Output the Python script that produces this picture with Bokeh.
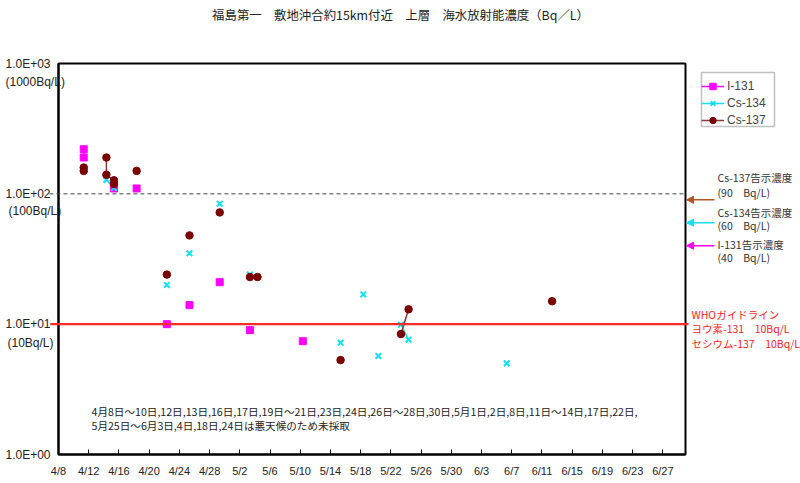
import math
import pandas as pd
from bokeh.plotting import figure
from bokeh.models import FixedTicker, Label, Arrow, NormalHead, Legend, LegendItem, BoxAnnotation
from bokeh.embed import file_html
from bokeh.resources import INLINE

# ---------------------------------------------------------------------------
# data (sampling date + time, Bq/L)
start_date = "2011-04-08"
end_date = "2011-06-30"

tick_labels = ["4/8", "4/12", "4/16", "4/20", "4/24", "4/28", "5/2", "5/6", "5/10", "5/14",
               "5/18", "5/22", "5/26", "5/30", "6/3", "6/7", "6/11", "6/15", "6/19", "6/23", "6/27"]

y_ticks = [1, 10, 100, 1000]
y_tick_labels = ["1.0E+00", "1.0E+01", "1.0E+02", "1.0E+03"]
y_unit_labels = ["", "(10Bq/L)", "(100Bq/L)", "(1000Bq/L)"]

i131_dates = ["2011-04-11 08:10", "2011-04-11 08:10", "2011-04-15 08:10", "2011-04-18 08:10",
              "2011-04-22 08:10", "2011-04-25 08:10", "2011-04-29 08:10", "2011-05-03 08:10",
              "2011-05-10 08:10"]
i131_values = [220, 190, 110, 110, 10, 14, 21, 9.0, 7.4]

cs134_dates = ["2011-04-11 08:10", "2011-04-11 08:10", "2011-04-14 08:10", "2011-04-15 08:10",
               "2011-04-22 08:10", "2011-04-25 08:10", "2011-04-29 08:10", "2011-05-03 08:10",
               "2011-05-15 08:10", "2011-05-18 08:10", "2011-05-20 08:10", "2011-05-23 08:10",
               "2011-05-24 08:10", "2011-06-06 08:10"]
cs134_values = [155, 150, 128, 111, 20, 35, 84, 24, 7.2, 16.9, 5.7, 9.9, 7.6, 5.0]

cs137_dates = ["2011-04-11 08:10", "2011-04-11 08:10", "2011-04-14 08:10", "2011-04-14 08:10",
               "2011-04-15 08:10", "2011-04-15 08:10", "2011-04-18 08:10", "2011-04-22 08:10",
               "2011-04-25 08:10", "2011-04-29 08:10", "2011-05-03 08:10", "2011-05-04 08:10",
               "2011-05-15 08:10", "2011-05-23 08:10", "2011-05-24 08:10", "2011-06-12 08:10"]
cs137_values = [159, 150, 190, 140, 127, 119, 150, 24, 48, 72, 23, 23, 5.3, 8.4, 13, 15]

limit_names = ["Cs-137告示濃度", "Cs-134告示濃度", "I-131告示濃度"]
limit_notes = ["(90　Bq/L)", "(60　Bq/L)", "(40　Bq/L)"]
limit_values = [90, 60, 40]

who_value = 10
who_lines = ["WHOガイドライン", "ヨウ素-131　10Bq/L", "セシウム-137　10Bq/L"]

title_text = "福島第一　敷地沖合約15km付近　上層　海水放射能濃度（Bq／L）"
note_lines = ["4月8日～10日,12日,13日,16日,17日,19日～21日,23日,24日,26日～28日,30日,5月1日,2日,8日,11日～14日,17日,22日,",
              "5月25日～6月3日,4日,18日,24日は悪天候のため未採取"]

# ---------------------------------------------------------------------------
t0 = pd.Timestamp(start_date)


def to_days(dates):
    return [(pd.Timestamp(d) - t0) / pd.Timedelta(days=1) for d in dates]


def tick_days(labels):
    out = []
    for lab in labels:
        m, d = lab.split("/")
        out.append(int((pd.Timestamp(year=t0.year, month=int(m), day=int(d)) - t0).days))
    return out


def broken(xs, ys):
    # consecutive rows (same or next day) are joined, gaps break the line
    lx, ly = [], []
    for i in range(len(xs)):
        if i > 0 and xs[i] - xs[i - 1] > 1.5:
            lx.append(math.nan)
            ly.append(math.nan)
        lx.append(xs[i])
        ly.append(ys[i])
    return lx, ly


# the frame fills the whole canvas; the plotted box is placed inside it
W, H = 800, 483
BOX_L, BOX_R, BOX_T, BOX_B = 58, 685, 63, 454

x_end = (pd.Timestamp(end_date) - t0).days
dpp = x_end / (BOX_R - BOX_L)
lpp = 3 / (BOX_B - BOX_T)
x0 = -BOX_L * dpp
x1 = x_end + (W - BOX_R) * dpp
y0 = 10 ** (-(H - BOX_B) * lpp)
y1 = 10 ** (3 + BOX_T * lpp)


def scr(rx, ry):
    return rx, H - ry


ticks = tick_days(tick_labels)

p = figure(width=W, height=H, y_axis_type="log", title=None,
           x_range=(x0, x1), y_range=(y0, y1),
           output_backend="svg", toolbar_location=None,
           min_border=0, min_border_left=0, min_border_right=0,
           min_border_top=0, min_border_bottom=0)
p.background_fill_color = "white"
p.border_fill_color = "white"
p.xgrid.visible = False
p.ygrid.visible = False
p.outline_line_color = None

p.xaxis.fixed_location = 1
p.xaxis.bounds = (0, x_end)
p.xaxis.ticker = FixedTicker(ticks=ticks)
p.xaxis.major_label_overrides = {t: lab for t, lab in zip(ticks, tick_labels)}
p.xaxis.major_tick_in = 5
p.xaxis.major_tick_out = 0
p.xaxis.minor_tick_line_color = None
p.xaxis.axis_line_width = 2
p.xaxis.major_tick_line_width = 1
p.xaxis.major_label_standoff = 10
p.xaxis.major_label_text_font = "Liberation Sans"
p.xaxis.major_label_text_font_size = "11px"
p.xaxis.major_label_text_color = "#222"

p.yaxis.fixed_location = 0
p.yaxis.bounds = (1, 1000)
p.yaxis.ticker = FixedTicker(ticks=y_ticks)
p.yaxis.major_label_overrides = {t: lab for t, lab in zip(y_ticks, y_tick_labels)}
p.yaxis.major_tick_in = 0
p.yaxis.major_tick_out = 0
p.yaxis.minor_tick_line_color = None
p.yaxis.axis_line_width = 2
p.yaxis.major_label_standoff = 8
p.yaxis.major_label_text_font = "Liberation Sans"
p.yaxis.major_label_text_font_size = "12px"
p.yaxis.major_label_text_color = "#222"

# plot box
p.add_layout(BoxAnnotation(left=0, right=x_end, bottom=1, top=1000, fill_alpha=0,
                           line_color="black", line_width=2, line_alpha=1))

# reference lines
p.add_layout(Arrow(end=None, x_start=-1.2, y_start=100, x_end=x_end, y_end=100,
                   line_color="#444", line_width=1, line_dash="4 3"))
p.add_layout(Arrow(end=None, x_start=-1.1, y_start=who_value, x_end=x_end + 0.4, y_end=who_value,
                   line_color="#ff2a2a", line_width=2.2))

# series
series = [
    ("I-131", i131_dates, i131_values, "#ff00ff", "#ff00ff", "square", 7),
    ("Cs-134", cs134_dates, cs134_values, "#12e0f0", "#12e0f0", "x", 8),
    ("Cs-137", cs137_dates, cs137_values, "#7a0000", "#8b3a3a", "circle", 7.5),
]
items = []
for name, dates, vals, color, lcolor, marker, size in series:
    xs = to_days(dates)
    lx, ly = broken(xs, vals)
    ln = p.line(lx, ly, line_color=lcolor, line_width=1.5)
    sc = p.scatter(xs, vals, marker=marker, size=size, fill_color=color,
                   line_color=color, line_width=2 if marker == "x" else 1)
    items.append(LegendItem(label=name, renderers=[ln, sc]))

# legend: entries placed by bokeh, frame drawn to the reference size
p.add_layout(BoxAnnotation(left=701, right=774, top=H - 72, bottom=H - 126,
                           left_units="screen", right_units="screen",
                           top_units="screen", bottom_units="screen",
                           fill_color="white", fill_alpha=1,
                           line_color="#333", line_width=1.5, level="overlay"))
legend = Legend(items=items, location=scr(701, 128), margin=0, padding=3, spacing=1,
                glyph_width=23, glyph_height=16, label_height=16, label_standoff=3,
                label_text_font="Liberation Sans", label_text_font_size="12px",
                border_line_color=None, background_fill_alpha=0)
p.add_layout(legend)

# limit arrows and notes on the right
arrow_colors = ["#b0562c", "#12e0f0", "#ff00ff"]
name_y = [177, 211.5, 243.5]
note_y = [191.5, 224.5, 256.5]
for nm, nt, v, c, ny, ty in zip(limit_names, limit_notes, limit_values, arrow_colors, name_y, note_y):
    p.add_layout(Arrow(end=NormalHead(size=7, fill_color=c, line_color=c),
                       x_start=x_end + 29 * dpp, y_start=v, x_end=x_end + 1 * dpp, y_end=v,
                       line_color=c, line_width=1.5))
    for txt, ry in ((nm, ny), (nt, ty)):
        sx, sy = scr(717, ry)
        p.add_layout(Label(x=sx, y=sy, x_units="screen", y_units="screen", text=txt,
                           text_font="Noto Sans CJK JP", text_font_size="10.5px",
                           text_color="#333", text_baseline="middle"))

for i, line in enumerate(who_lines):
    sx, sy = scr(691, 313.5 + 14.7 * i)
    p.add_layout(Label(x=sx, y=sy, x_units="screen", y_units="screen", text=line,
                       text_font="Noto Sans CJK JP", text_font_size="10.5px",
                       text_color="#ff1a1a", text_baseline="middle"))

# y unit lines under the tick labels
unit_pos = {1000: (5, 81), 100: (8, 210), 10: (7, 342)}
for t, lab in zip(y_ticks, y_unit_labels):
    if not lab:
        continue
    sx, sy = scr(*unit_pos[t])
    p.add_layout(Label(x=sx, y=sy, x_units="screen", y_units="screen", text=lab,
                       text_font="Liberation Sans", text_font_size="12px",
                       text_color="#222", text_baseline="middle"))

# title and note
sx, sy = scr(400, 14)
p.add_layout(Label(x=sx, y=sy, x_units="screen", y_units="screen", text=title_text,
                   text_font="Noto Sans CJK JP", text_font_size="12.4px",
                   text_color="#222", text_baseline="middle", text_align="center"))
for i, line in enumerate(note_lines):
    sx, sy = scr(91, 411 + 14.3 * i)
    p.add_layout(Label(x=sx, y=sy, x_units="screen", y_units="screen", text=line,
                       text_font="Noto Sans CJK JP", text_font_size="10.6px",
                       text_color="#222", text_baseline="middle"))

open("out.html", "w").write(file_html(p, INLINE))
